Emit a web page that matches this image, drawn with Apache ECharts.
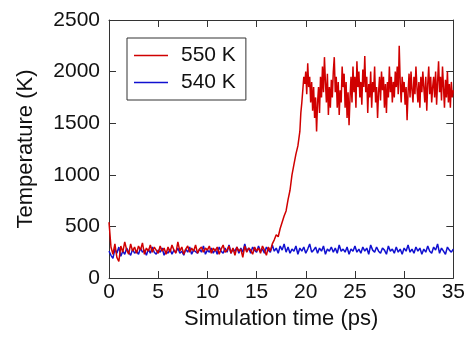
<!DOCTYPE html>
<html>
<head>
<meta charset="utf-8">
<script src="https://cdn.jsdelivr.net/npm/echarts@6/dist/echarts.min.js"></script>
<style>
html,body{margin:0;padding:0;background:#fff;}
#chart{width:468px;height:340px;}
</style>
</head>
<body>
<div id="chart"></div>
<script>
// Simulation time (ps) for the 540 K run
const time540 = [
0,0.2,0.4,0.6,0.8,1,1.2,1.4,1.6,1.8,2,2.2,2.4,2.6,2.8,3,3.2,3.4,3.6,3.8,
4,4.2,4.4,4.6,4.8,5,5.2,5.4,5.6,5.8,6,6.2,6.4,6.6,6.8,7,7.2,7.4,7.6,7.8,
8,8.2,8.4,8.6,8.8,9,9.2,9.4,9.6,9.8,10,10.2,10.4,10.6,10.8,11,11.2,11.4,11.6,11.8,
12,12.2,12.4,12.6,12.8,13,13.2,13.4,13.6,13.8,14,14.2,14.4,14.6,14.8,15,15.2,15.4,15.6,15.8,
16,16.2,16.4,16.6,16.8,17,17.2,17.4,17.6,17.8,18,18.2,18.4,18.6,18.8,19,19.2,19.4,19.6,19.8,
20,20.2,20.4,20.6,20.8,21,21.2,21.4,21.6,21.8,22,22.2,22.4,22.6,22.8,23,23.2,23.4,23.6,23.8,
24,24.2,24.4,24.6,24.8,25,25.2,25.4,25.6,25.8,26,26.2,26.4,26.6,26.8,27,27.2,27.4,27.6,27.8,
28,28.2,28.4,28.6,28.8,29,29.2,29.4,29.6,29.8,30,30.2,30.4,30.6,30.8,31,31.2,31.4,31.6,31.8,
32,32.2,32.4,32.6,32.8,33,33.2,33.4,33.6,33.8,34,34.2,34.4,34.6,34.8,35
];
// 540 K run, temperature (K)
const temp540 = [
260,220,190,280,240, 300,210,260,230,290, 250,220,280,240,260, 230,290,250,270,220,
280,240,300,250,230, 270,250,290,220,260, 240,280,230,270,250, 290,240,260,220,280,
250,300,230,270,260, 240,280,250,310,230, 270,250,290,240,280, 230,300,260,240,290,
250,320,240,280,260, 300,240,290,250,330, 260,290,240,300,270, 250,310,260,280,240,
300,270,250,320,260, 290,240,310,270,330, 250,300,240,280,260, 310,230,290,260,300,
240,280,330,250,270, 300,240,290,260,310, 230,280,260,300,250, 290,240,320,260,280,
250,300,230,280,260, 310,250,280,240,300, 260,290,230,320,270, 250,300,260,240,290,
270,230,310,260,280, 240,300,250,280,230, 290,260,320,250,280, 240,300,260,290,230,
280,250,310,260,240, 300,270,330,240,290, 260,230,300,270,250, 280
];
// Simulation time (ps) for the 550 K run
const time550 = [
0,0.2,0.4,0.6,0.8,1,1.2,1.4,1.6,1.8,2,2.2,2.4,2.6,2.8,3,3.2,3.4,3.6,3.8,
4,4.2,4.4,4.6,4.8,5,5.2,5.4,5.6,5.8,6,6.2,6.4,6.6,6.8,7,7.2,7.4,7.6,7.8,
8,8.2,8.4,8.6,8.8,9,9.2,9.4,9.6,9.8,10,10.2,10.4,10.6,10.8,11,11.2,11.4,11.6,11.8,
12,12.2,12.4,12.6,12.8,13,13.2,13.4,13.6,13.8,14,14.2,14.4,14.6,14.8,15,15.2,15.4,15.6,15.8,
16,16.2,16.4,16.6,16.8,17,17.2,17.4,17.6,17.8,18,18.2,18.4,18.6,18.8,19,19.2,19.4,
19.5,19.6,19.7,19.8,19.9,
20,20.1,20.2,20.3,20.4,20.5,20.6,20.7,20.8,20.9,21,21.1,21.2,21.3,21.4,21.5,21.6,21.7,21.8,21.9,
22,22.1,22.2,22.3,22.4,22.5,22.6,22.7,22.8,22.9,23,23.1,23.2,23.3,23.4,23.5,23.6,23.7,23.8,23.9,
24,24.1,24.2,24.3,24.4,24.5,24.6,24.7,24.8,24.9,25,25.1,25.2,25.3,25.4,25.5,25.6,25.7,25.8,25.9,
26,26.1,26.2,26.3,26.4,26.5,26.6,26.7,26.8,26.9,27,27.1,27.2,27.3,27.4,27.5,27.6,27.7,27.8,27.9,
28,28.1,28.2,28.3,28.4,28.5,28.6,28.7,28.8,28.9,29,29.1,29.2,29.3,29.4,29.5,29.6,29.7,29.8,29.9,
30,30.1,30.2,30.3,30.4,30.5,30.6,30.7,30.8,30.9,31,31.1,31.2,31.3,31.4,31.5,31.6,31.7,31.8,31.9,
32,32.1,32.2,32.3,32.4,32.5,32.6,32.7,32.8,32.9,33,33.1,33.2,33.3,33.4,33.5,33.6,33.7,33.8,33.9,
34,34.1,34.2,34.3,34.4,34.5,34.6,34.7,34.8,34.9,35
];
// 550 K run, temperature (K)
const temp550 = [
540,300,230,330,200, 160,310,250,350,270, 230,330,260,300,240, 310,270,340,230,290,
260,320,250,300,270, 240,310,260,290,230, 300,250,320,270,240, 350,260,300,230,280,
310,250,290,260,320, 240,280,300,250,290, 270,310,240,290,260, 300,230,280,320,250,
270,310,240,290,220, 300,260,280,200,310, 250,290,270,230,300, 260,290,240,310,270,
220,300,260,330,370, 420,400,480,540,600, 650,760,850,1000,1100, 1200,1280,1420,
1600,1700,1820,1950,1880,
2000,1780,2080,1850,1950,1700,1900,1620,1850,1550, 1750,1420,1700,1850,1600,1950,1750,2050,1800,2140,
1900,1700,1980,1580,1850,1650,1920,1750,2000,2140, 1800,1950,1650,1900,1580,1820,1700,2050,1850,1980,
1650,1900,1550,1800,1480,1750,1950,1700,2050,1800, 1950,1650,2100,1850,2000,1750,1900,1680,2020,1850,
2150,1800,1950,1600,1880,1750,2000,1650,1900,1800, 2050,1700,1850,1550,1800,1950,1720,2000,1820,1950,
1650,1880,1600,1900,1750,2050,1800,1950,1700,1900, 1750,2000,1850,2050,1780,2250,1900,1700,1950,1800,
1900,1680,1850,1530,1800,1980,1750,2000,1820,1700, 1950,1780,2050,1850,1700,1900,1650,1950,1800,2000,
1850,1700,1950,1620,1880,2050,1780,1950,1700,1850, 1950,1750,2000,1680,1900,2100,1800,1950,1720,2050,
1850,1650,1920,1750,2000,1700,1880,1650,1900,1750, 1820
];
const seriesNames = ['550 K', '540 K'];
const xTicks = [0, 5, 10, 15, 20, 25, 30, 35];
const yTicks = [0, 500, 1000, 1500, 2000, 2500];

const pair = (ts, ys) => ts.map((t, i) => [t, ys[i]]);
const FONT = 'Liberation Sans';
const AX = '#333';
const mkTick = () => ({ inside: true, length: 7, lineStyle: { color: AX, width: 1 } });
const mkLine = () => ({ show: true, onZero: false, lineStyle: { color: AX, width: 1 } });
const plain = (v) => String(v);

const chart = echarts.init(document.getElementById('chart'), null, { renderer: 'canvas' });
chart.setOption({
  animation: false,
  backgroundColor: '#fff',
  grid: { left: 109, right: 11, top: 20, bottom: 62, containLabel: false },
  legend: {
    left: 127, top: 38,
    orient: 'vertical',
    data: [{ name: seriesNames[0], icon: 'rect' }, { name: seriesNames[1], icon: 'rect' }],
    backgroundColor: '#fff',
    borderColor: AX, borderWidth: 1, borderRadius: 0,
    padding: [7, 10, 7, 7],
    itemWidth: 34, itemHeight: 1.5, itemGap: 6,
    textStyle: { fontFamily: FONT, fontSize: 21, color: '#111', padding: [0, 0, 0, 8], lineHeight: 20 }
  },
  xAxis: [{
    type: 'value', min: xTicks[0], max: xTicks[xTicks.length - 1], interval: 5,
    name: 'Simulation time (ps)', nameLocation: 'middle', nameGap: 23,
    nameTextStyle: { fontFamily: FONT, fontSize: 22, color: '#111' },
    axisLine: mkLine(), axisTick: mkTick(),
    axisLabel: { fontFamily: FONT, fontSize: 21, color: '#111', margin: 4, formatter: plain },
    splitLine: { show: false }
  }, {
    type: 'value', position: 'top', min: xTicks[0], max: xTicks[xTicks.length - 1], interval: 5,
    axisLine: mkLine(), axisTick: mkTick(), axisLabel: { show: false }, splitLine: { show: false }
  }],
  yAxis: [{
    type: 'value', min: yTicks[0], max: yTicks[yTicks.length - 1], interval: 500,
    name: 'Temperature (K)', nameLocation: 'middle', nameGap: 72,
    nameTextStyle: { fontFamily: FONT, fontSize: 22, color: '#111' },
    axisLine: mkLine(), axisTick: mkTick(),
    axisLabel: { fontFamily: FONT, fontSize: 21, color: '#111', margin: 9, formatter: plain },
    splitLine: { show: false }
  }, {
    type: 'value', position: 'right', min: yTicks[0], max: yTicks[yTicks.length - 1], interval: 500,
    axisLine: mkLine(), axisTick: mkTick(), axisLabel: { show: false }, splitLine: { show: false }
  }],
  series: [{
    name: seriesNames[1], type: 'line', data: pair(time540, temp540),
    symbol: 'none', lineStyle: { color: '#1010d0', width: 1.5 }, itemStyle: { color: '#1010d0' }, z: 2
  }, {
    name: seriesNames[0], type: 'line', data: pair(time550, temp550),
    symbol: 'none', lineStyle: { color: '#d00000', width: 1.5 }, itemStyle: { color: '#d00000' }, z: 3
  }]
});
</script>
</body>
</html>
